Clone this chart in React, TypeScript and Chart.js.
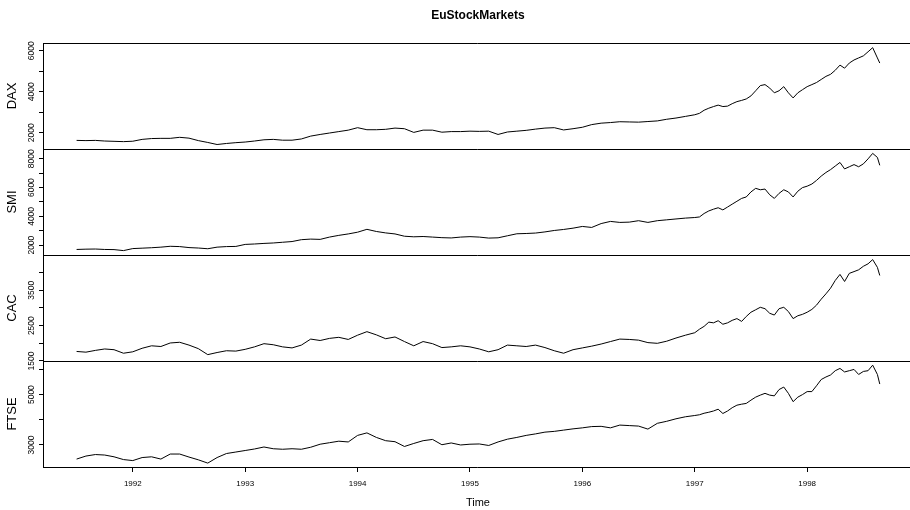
import React, { useEffect, useRef } from "react";
import { Chart, registerables } from "chart.js";

Chart.register(...registerables);

const TITLE = "EuStockMarkets";
const X_TITLE = "Time";
const SERIES_NAMES = ["DAX", "SMI", "CAC", "FTSE"];

// decimal years: monthly to end of 1996, then half-monthly
const TIMES = [
  1991.5, 1991.583, 1991.667, 1991.75, 1991.833, 1991.917,
  1992.0, 1992.083, 1992.167, 1992.25, 1992.333, 1992.417, 1992.5, 1992.583, 1992.667, 1992.75, 1992.833, 1992.917,
  1993.0, 1993.083, 1993.167, 1993.25, 1993.333, 1993.417, 1993.5, 1993.583, 1993.667, 1993.75, 1993.833, 1993.917,
  1994.0, 1994.083, 1994.167, 1994.25, 1994.333, 1994.417, 1994.5, 1994.583, 1994.667, 1994.75, 1994.833, 1994.917,
  1995.0, 1995.083, 1995.167, 1995.25, 1995.333, 1995.417, 1995.5, 1995.583, 1995.667, 1995.75, 1995.833, 1995.917,
  1996.0, 1996.083, 1996.167, 1996.25, 1996.333, 1996.417, 1996.5, 1996.583, 1996.667, 1996.75, 1996.833, 1996.917,
  1997.0, 1997.042, 1997.083, 1997.125, 1997.167, 1997.208, 1997.25, 1997.292, 1997.333, 1997.375, 1997.417, 1997.458,
  1997.5, 1997.542, 1997.583, 1997.625, 1997.667, 1997.708, 1997.75, 1997.792, 1997.833, 1997.875, 1997.917, 1997.958,
  1998.0, 1998.042, 1998.083, 1998.125, 1998.167, 1998.208, 1998.25, 1998.292, 1998.333, 1998.375, 1998.417, 1998.458,
  1998.5, 1998.542, 1998.583, 1998.625, 1998.646,
];

const DAX = [
  1630, 1620, 1630, 1600, 1585, 1570,
  1590, 1680, 1720, 1730, 1730, 1780, 1740, 1620, 1530, 1430, 1480, 1520,
  1550, 1600, 1660, 1680, 1640, 1640, 1700, 1840, 1920, 1990, 2060, 2130,
  2250, 2150, 2150, 2170, 2230, 2200, 2020, 2130, 2130, 2030, 2060, 2060,
  2080, 2070, 2080, 1920, 2040, 2080, 2120, 2180, 2230, 2250, 2140, 2200,
  2270, 2400, 2470, 2500, 2540, 2530, 2520, 2550, 2580, 2660, 2720, 2800,
  2880, 2950, 3100, 3200, 3280, 3350, 3280, 3300, 3420, 3520, 3580, 3650,
  3800, 4050, 4300, 4350, 4180, 3950, 4050, 4250, 3950, 3700, 3950, 4100,
  4250, 4350, 4450, 4600, 4750, 4850, 5050, 5300, 5150, 5400, 5550, 5650,
  5750, 5950, 6150, 5650, 5400,
];

const SMI = [
  1700, 1720, 1730, 1700, 1690, 1620,
  1760, 1790, 1820, 1860, 1920, 1900, 1830, 1800, 1750, 1860, 1900, 1910,
  2050, 2080, 2120, 2150, 2200, 2250, 2380, 2420, 2400, 2560, 2680, 2780,
  2900, 3100, 2950, 2850, 2780, 2620, 2580, 2600, 2560, 2520, 2500, 2560,
  2590, 2560, 2490, 2510, 2650, 2790, 2810, 2840, 2920, 3020, 3090, 3180,
  3300, 3230, 3500, 3650, 3580, 3600, 3700, 3580, 3700, 3760, 3820, 3880,
  3920, 3960, 4200, 4380, 4500, 4600, 4450, 4650, 4850, 5050, 5250, 5350,
  5700, 5950, 5850, 5900, 5500, 5250, 5600, 5850, 5700, 5350, 5750, 6000,
  6100, 6250, 6500, 6800, 7050, 7250, 7500, 7750, 7300, 7450, 7600, 7450,
  7650, 8000, 8380, 8100, 7550,
];

const CAC = [
  1770, 1750, 1800, 1840, 1820, 1720,
  1760, 1860, 1930, 1910, 2010, 2030, 1950, 1850, 1680, 1740, 1790, 1780,
  1830, 1900, 1990, 1960, 1900, 1870, 1950, 2120, 2080, 2140, 2170, 2110,
  2230, 2330, 2240, 2130, 2180, 2050, 1930, 2050, 1990, 1880, 1900, 1930,
  1900, 1840, 1760, 1820, 1950, 1930, 1910, 1950, 1880, 1790, 1720, 1820,
  1870, 1920, 1980, 2050, 2120, 2110, 2090, 2020, 2000, 2060, 2150, 2230,
  2300, 2400, 2480, 2600, 2580, 2640, 2540, 2580, 2650, 2700, 2620, 2760,
  2880, 2950, 3020, 2980, 2850, 2800, 2980, 3020, 2900, 2700, 2780, 2820,
  2880, 2960, 3080, 3250, 3400, 3560, 3780, 3950, 3750, 3980, 4030, 4080,
  4180, 4250, 4370, 4150, 3920,
];

const FTSE = [
  2440, 2560, 2620, 2600, 2530, 2420,
  2380, 2500, 2530, 2440, 2640, 2640, 2520, 2410, 2280, 2500, 2660, 2720,
  2780, 2840, 2920, 2850, 2830, 2850, 2830, 2910, 3030, 3090, 3150, 3120,
  3380, 3480, 3300, 3170, 3130, 2940, 3060, 3170, 3220, 3010, 3080, 3000,
  3030, 3040, 2980, 3120, 3230, 3300, 3380, 3440, 3510, 3540, 3590, 3640,
  3680, 3730, 3740, 3680, 3790, 3770, 3750, 3630, 3860, 3940, 4040, 4120,
  4170, 4200, 4260, 4300, 4350, 4420, 4250, 4350, 4480, 4580, 4620, 4650,
  4780, 4900, 4980, 5050, 4980, 4950, 5200, 5300, 5050, 4720, 4900, 5000,
  5120, 5120, 5350, 5600, 5700, 5780, 5950, 6040, 5900, 5950, 6000, 5800,
  5920, 5950, 6170, 5800, 5420,
];

const YEAR_TICKS = [1992, 1993, 1994, 1995, 1996, 1997, 1998];
const YEAR_LABELS = ["1992", "1993", "1994", "1995", "1996", "1997", "1998"];

const DAX_TICKS = [2000, 3000, 4000, 5000, 6000];
const DAX_TICK_LABELS = ["2000", "", "4000", "", "6000"];
const SMI_TICKS = [2000, 3000, 4000, 5000, 6000, 7000, 8000];
const SMI_TICK_LABELS = ["2000", "", "4000", "", "6000", "", "8000"];
const CAC_TICKS = [1500, 2000, 2500, 3000, 3500, 4000];
const CAC_TICK_LABELS = ["1500", "", "2500", "", "3500", ""];
const FTSE_TICKS = [3000, 4000, 5000, 6000];
const FTSE_TICK_LABELS = ["3000", "", "5000", ""];

const X_LIMITS = [1991.21, 1998.932];
const X_VISIBLE_MAX = 1998.915;
const DAX_RANGE = [1211.0, 6377.4];
const SMI_RANGE = [1314.4, 8685.0];
const CAC_RANGE = [1499.9, 4499.6];
const FTSE_RANGE = [2125.1, 6334.9];

const FONT = "'Liberation Sans', Arial, Helvetica, sans-serif";

export default function App() {
  const ref = useRef<HTMLCanvasElement | null>(null);

  useEffect(() => {
    const canvas = ref.current;
    if (!canvas) return;

    const panels = [
      { id: "yDAX", name: SERIES_NAMES[0], values: DAX, range: DAX_RANGE, ticks: DAX_TICKS, labels: DAX_TICK_LABELS },
      { id: "ySMI", name: SERIES_NAMES[1], values: SMI, range: SMI_RANGE, ticks: SMI_TICKS, labels: SMI_TICK_LABELS },
      { id: "yCAC", name: SERIES_NAMES[2], values: CAC, range: CAC_RANGE, ticks: CAC_TICKS, labels: CAC_TICK_LABELS },
      { id: "yFTSE", name: SERIES_NAMES[3], values: FTSE, range: FTSE_RANGE, ticks: FTSE_TICKS, labels: FTSE_TICK_LABELS },
    ];

    const tickGrid = {
      display: true,
      drawOnChartArea: false,
      drawTicks: true,
      tickLength: 5,
      color: "#000",
      lineWidth: 1,
    };

    const scales: any = {
      x: {
        type: "linear",
        position: "bottom",
        min: X_LIMITS[0],
        max: X_VISIBLE_MAX,
        afterBuildTicks: (s: any) => {
          s.ticks = YEAR_TICKS.map((v) => ({ value: v }));
        },
        afterFit: (s: any) => {
          s.height = 43;
        },
        grid: tickGrid,
        border: { display: false },
        ticks: { display: false },
      },
    };
    // defined bottom-first so the last one (DAX) is stacked on top
    [...panels].reverse().forEach((p) => {
      scales[p.id] = {
        type: "linear",
        position: "left",
        stack: "panels",
        stackWeight: 1,
        min: p.range[0],
        max: p.range[1],
        afterBuildTicks: (s: any) => {
          s.ticks = p.ticks.map((v) => ({ value: v }));
        },
        afterFit: (s: any) => {
          s.width = 44;
        },
        grid: tickGrid,
        border: { display: false },
        ticks: { display: false },
      };
    });

    const decor = {
      id: "rDecor",
      afterDraw(chart: any) {
        const ctx = chart.ctx as CanvasRenderingContext2D;
        const area = chart.chartArea;
        const xs = chart.scales.x;
        ctx.save();
        // panel frames: one line per boundary
        ctx.strokeStyle = "#000";
        ctx.lineWidth = 1;
        ctx.beginPath();
        const L = Math.round(area.left) - 0.5;
        const R = chart.width + 5;
        panels.forEach((p) => {
          const s = chart.scales[p.id];
          const t = Math.round(s.top) + 0.5;
          ctx.moveTo(L, t);
          ctx.lineTo(R, t);
        });
        const bottomY = Math.round(area.bottom) + 0.5;
        ctx.moveTo(L, bottomY);
        ctx.lineTo(R, bottomY);
        ctx.moveTo(L, Math.round(area.top));
        ctx.lineTo(L, bottomY + 0.5);
        ctx.stroke();

        ctx.fillStyle = "#000";
        // y tick labels + panel names
        panels.forEach((p) => {
          const s = chart.scales[p.id];
          ctx.font = `8.5px ${FONT}`;
          ctx.textAlign = "center";
          ctx.textBaseline = "middle";
          s.ticks.forEach((t: any, i: number) => {
            const lab = p.labels[i];
            if (!lab) return;
            const y = s.getPixelForValue(t.value);
            ctx.save();
            ctx.translate(31.5, y);
            ctx.rotate(-Math.PI / 2);
            ctx.fillText(lab, 0, 0);
            ctx.restore();
          });
          ctx.font = `13px ${FONT}`;
          ctx.save();
          ctx.translate(12.5, (s.top + s.bottom) / 2);
          ctx.rotate(-Math.PI / 2);
          ctx.fillText(p.name, 0, 0);
          ctx.restore();
        });
        // x tick labels
        ctx.font = `8px ${FONT}`;
        ctx.textAlign = "center";
        ctx.textBaseline = "middle";
        xs.ticks.forEach((t: any, i: number) => {
          ctx.fillText(YEAR_LABELS[i], xs.getPixelForValue(t.value), 484);
        });
        const cx = xs.getPixelForValue((X_LIMITS[0] + X_LIMITS[1]) / 2);
        ctx.font = `11px ${FONT}`;
        ctx.fillText(X_TITLE, cx, 503);
        ctx.font = `bold 12px ${FONT}`;
        ctx.fillText(TITLE, cx, 16);
        ctx.restore();
      },
    };

    const chart = new Chart(canvas, {
      type: "line",
      data: {
        datasets: panels.map((p) => ({
          label: p.name,
          yAxisID: p.id,
          data: TIMES.map((t, i) => ({ x: t, y: p.values[i] })),
          borderColor: "#000",
          borderWidth: 1,
          pointRadius: 0,
          fill: false,
          tension: 0,
        })),
      },
      options: {
        responsive: false,
        animation: false,
        devicePixelRatio: 1,
        events: [],
        layout: { padding: { top: 43, left: 0, right: 0, bottom: 0 }, autoPadding: false },
        plugins: { legend: { display: false }, title: { display: false }, tooltip: { enabled: false } },
        scales,
      },
      plugins: [decor],
    });
    return () => chart.destroy();
  }, []);

  return (
    <canvas
      ref={ref}
      width={910}
      height={510}
      style={{ position: "fixed", left: 0, top: 0, width: 910, height: 510, background: "#fff" }}
    />
  );
}
